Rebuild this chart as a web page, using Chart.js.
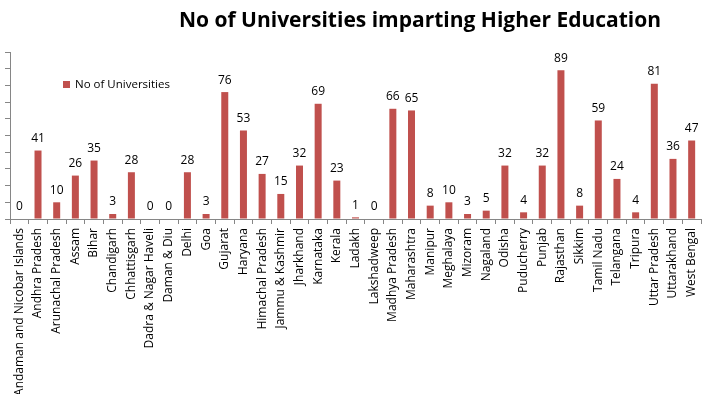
<!DOCTYPE html>
<html>
<head>
<meta charset="utf-8">
<script src="https://cdn.jsdelivr.net/npm/chart.js@4/dist/chart.umd.min.js"></script>
<style>
  html, body { margin: 0; padding: 0; background: #fff; }
  #wrap { width: 721px; height: 394px; position: relative; }
</style>
</head>
<body>
<div id="wrap"><canvas id="uniChart"></canvas></div>
<script>
const states = [
  "Andaman and Nicobar Islands", "Andhra Pradesh", "Arunachal Pradesh", "Assam", "Bihar",
  "Chandigarh", "Chhattisgarh", "Dadra & Nagar Haveli", "Daman & Diu", "Delhi", "Goa",
  "Gujarat", "Haryana", "Himachal Pradesh", "Jammu & Kashmir", "Jharkhand", "Karnataka",
  "Kerala", "Ladakh", "Lakshadweep", "Madhya Pradesh", "Maharashtra", "Manipur",
  "Meghalaya", "Mizoram", "Nagaland", "Odisha", "Puducherry", "Punjab", "Rajasthan",
  "Sikkim", "Tamil Nadu", "Telangana", "Tripura", "Uttar Pradesh", "Uttarakhand", "West Bengal"
];
const universities = [
  0, 41, 10, 26, 35, 3, 28, 0, 0, 28, 3,
  76, 53, 27, 15, 32, 69,
  23, 1, 0, 66, 65, 8,
  10, 3, 5, 32, 4, 32, 89,
  8, 59, 24, 4, 81, 36, 47
];
const seriesName = "No of Universities";
const chartTitle = "No of Universities imparting Higher Education";

const fontFam = "'Open Sans', sans-serif";

// value labels above each bar, title and legend
const extras = {
    id: "extras",
    afterDatasetsDraw(chart) {
        const ctx = chart.ctx;
        const meta = chart.getDatasetMeta(0);
        ctx.save();
        ctx.fillStyle = "#000";
        ctx.font = "12px " + fontFam;
        ctx.textAlign = "center";
        ctx.textBaseline = "bottom";
        meta.data.forEach((bar, i) => {
            ctx.fillText(String(universities[i]), bar.x, bar.y - 6);
        });

        // title
        ctx.font = "bold 21px " + fontFam;
        ctx.textBaseline = "middle";
        ctx.fillText(chartTitle, 420, 21);

        // legend
        ctx.fillStyle = "#C0504D";
        ctx.fillRect(63, 81, 7, 7);
        ctx.fillStyle = "#000";
        ctx.font = "11.5px " + fontFam;
        ctx.textAlign = "left";
        ctx.fillText(seriesName, 75, 85);
        ctx.restore();
    },
};

const ctx = document.getElementById("uniChart").getContext("2d");
const uniChart = new Chart(ctx, {
    type: "bar",
    data: {
        labels: states,
        datasets: [
            {
                label: seriesName,
                data: universities,
                backgroundColor: "#C0504D",
                borderWidth: 0,
                barPercentage: 0.75,
                categoryPercentage: 0.5,
            },
        ],
    },
    options: {
        responsive: true,
        maintainAspectRatio: false,
        animation: false,
        layout: { padding: { top: 52, right: 20, left: 0, bottom: 0 } },
        plugins: {
            legend: { display: false },
            tooltip: { enabled: false },
        },
        scales: {
            x: {
                grid: {
                    offset: true,
                    drawOnChartArea: false,
                    drawTicks: true,
                    tickLength: 5,
                    color: "#868686",
                },
                border: { color: "#868686" },
                ticks: {
                    autoSkip: false,
                    minRotation: 90,
                    maxRotation: 90,
                    padding: 4,
                    color: "#000",
                    font: { family: fontFam, size: 12 },
                },
                afterFit(scale) { scale.height = 175; },
            },
            y: {
                min: 0,
                max: 100,
                ticks: { stepSize: 10, display: false },
                grid: {
                    drawOnChartArea: false,
                    drawTicks: true,
                    tickLength: 5,
                    color: "#868686",
                },
                border: { color: "#868686" },
                afterFit(scale) { scale.width = 10; },
            },
        },
    },
    plugins: [extras],
});
</script>
</body>
</html>
